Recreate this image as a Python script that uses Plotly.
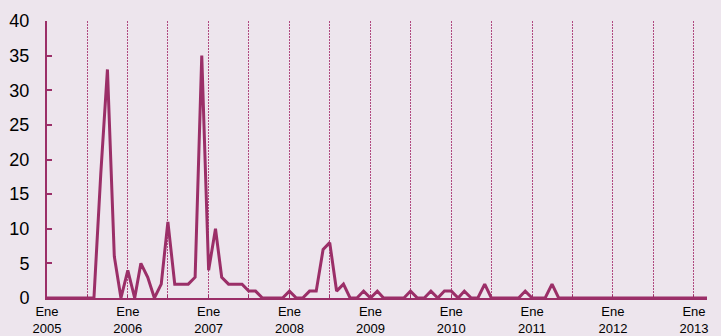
import pandas as pd
import plotly.graph_objects as go

# monthly values, Jan 2005 - Mar 2013
months = pd.date_range("2005-01-01", periods=99, freq="MS")
values = [
    0, 0, 0, 0, 0, 0, 0, 0, 18, 33, 6, 0,      # 2005
    4, 0, 5, 3, 0, 2, 11, 2, 2, 2, 3, 35,      # 2006
    4, 10, 3, 2, 2, 2, 1, 1, 0, 0, 0, 0,       # 2007
    1, 0, 0, 1, 1, 7, 8, 1, 2, 0, 0, 1,        # 2008
    0, 1, 0, 0, 0, 0, 1, 0, 0, 1, 0, 1,        # 2009
    1, 0, 1, 0, 0, 2, 0, 0, 0, 0, 0, 1,        # 2010
    0, 0, 0, 2, 0, 0, 0, 0, 0, 0, 0, 0,        # 2011
    0, 0, 0, 0, 0, 0, 0, 0, 0, 0, 0, 0,        # 2012
    0, 0, 0,                                   # 2013
]
years = list(range(2005, 2014))
tick_dates = [pd.Timestamp(f"{y}-01-01") for y in years]
tick_text = [f"Ene<br>{y}" for y in years]

maroon = "#9b2f68"
grid = "#b04a80"
bg = "#ede5ed"

fig = go.Figure()
fig.add_trace(go.Scatter(x=months, y=values, mode="lines",
                         line=dict(color=maroon, width=3), showlegend=False))

fig.update_layout(
    width=721, height=336,
    margin=dict(l=47, r=14, t=21, b=38),
    paper_bgcolor=bg, plot_bgcolor=bg,
    font=dict(family="Liberation Sans, Arial, sans-serif", color="black"),
)
fig.update_xaxes(
    automargin=False,
    range=[months[0], months[-1]],
    tickmode="array", tickvals=tick_dates, ticktext=tick_text,
    tickfont=dict(size=13),
    showgrid=True, gridcolor=grid, gridwidth=1, griddash="2px,1px",
    minor=dict(tick0="2005-07-01", dtick="M6", showgrid=True,
               gridcolor=grid, gridwidth=1, griddash="2px,1px",
               ticks="inside", ticklen=3, tickcolor=maroon),
    ticks="inside", ticklen=3, tickcolor=maroon,
    showline=True, linecolor=maroon, linewidth=2,
    zeroline=False, ticklabelstandoff=0,
)
fig.update_yaxes(
    automargin=False,
    range=[0, 40], dtick=5,
    tickfont=dict(size=18),
    showgrid=False, zeroline=False,
    showline=True, linecolor=maroon, linewidth=2,
    ticks="inside", ticklen=5, tickwidth=2, tickcolor=maroon,
    ticklabelstandoff=12,
)

fig.write_html("out.html", config={"displayModeBar": False},
               post_script="document.body.style.margin='0';")
